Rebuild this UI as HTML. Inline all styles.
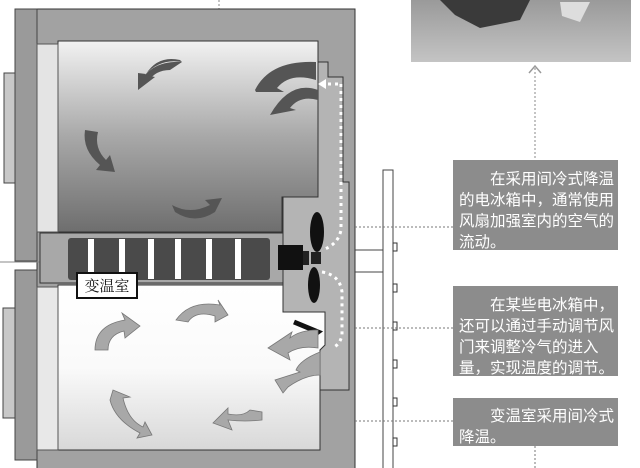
<!DOCTYPE html>
<html><head><meta charset="utf-8"><style>
body{margin:0;background:#fff}
svg{display:block}
.t{font-family:"Liberation Sans","Noto Sans CJK SC",sans-serif;font-size:15.5px;fill:#fff}
</style></head><body>
<svg width="640" height="468" viewBox="0 0 640 468" xmlns="http://www.w3.org/2000/svg">
<defs>
<linearGradient id="g1" x1="0" y1="0" x2="0" y2="1"><stop offset="0" stop-color="#f2f2f2"/><stop offset="0.5" stop-color="#a8a8a8"/><stop offset="1" stop-color="#6e6e6e"/></linearGradient>
<linearGradient id="g2" x1="0" y1="0" x2="0" y2="1"><stop offset="0" stop-color="#fff"/><stop offset="0.5" stop-color="#fafafa"/><stop offset="1" stop-color="#d8d8d8"/></linearGradient>
<linearGradient id="ph" x1="0" y1="0" x2="0" y2="1"><stop offset="0" stop-color="#9a9a9a"/><stop offset="1" stop-color="#c4c4c4"/></linearGradient>
</defs>
<!-- photo -->
<rect x="411" y="0" width="220" height="62" fill="url(#ph)"/>
<path d="M440 0 L530 0 L520 20 L480 28 L455 15Z" fill="#3a3a3a"/>
<path d="M560 2 L590 2 L580 22 L562 16Z" fill="#ddd"/>
<path d="M529 73 L535 66 L541 73" fill="none" stroke="#999" stroke-width="1.5"/>
<line x1="535" y1="68" x2="535" y2="160" stroke="#888" stroke-dasharray="2,2"/>
<line x1="219" y1="0" x2="219" y2="9" stroke="#888" stroke-dasharray="2,2"/>
<!-- cabinet -->
<rect x="37" y="9" width="318" height="460" fill="#a2a2a2" stroke="#333"/>
<rect x="15" y="9" width="22" height="252" fill="#9a9a9a" stroke="#444"/>
<rect x="15" y="270" width="22" height="190" fill="#9a9a9a" stroke="#444"/>
<rect x="4" y="73" width="11" height="110" fill="#c8c8c8" stroke="#444"/>
<rect x="3" y="308" width="12" height="110" fill="#c8c8c8" stroke="#444"/>
<line x1="0" y1="262" x2="68" y2="262" stroke="#888"/>
<!-- upper compartment -->
<path d="M58 41 H318 V197 H282 V232 H58Z" fill="url(#g1)" stroke="#333"/>
<rect x="37" y="44" width="21" height="188" fill="#e4e4e4" stroke="#555"/>
<!-- duct -->
<path d="M318 62 H328 V77 H343 V182 H349 V390 H320 L320 372 H283 V197 H318Z" fill="#b4b4b4" stroke="#333"/>
<!-- divider -->
<rect x="40" y="233" width="243" height="50" fill="#a8a8a8" stroke="#333"/>
<rect x="68" y="238" width="202" height="42" rx="3" fill="#4a4a4a"/>
<g fill="#fff"><rect x="88" y="239" width="6" height="40"/><rect x="119" y="239" width="6" height="40"/><rect x="148" y="239" width="6" height="40"/><rect x="175" y="239" width="6" height="40"/><rect x="206" y="239" width="6" height="40"/><rect x="235" y="239" width="6" height="40"/></g>
<!-- lower compartment -->
<path d="M58 285 H283 V312 H325 V345 L320 350 V450 H58Z" fill="url(#g2)" stroke="#333"/>
<rect x="37" y="287" width="21" height="163" fill="#e8e8e8" stroke="#555"/>
<rect x="77" y="273" width="60" height="25" fill="#fff" stroke="#111" stroke-width="2"/>
<text x="107" y="291" text-anchor="middle" font-family="Liberation Serif,'Noto Serif CJK SC',serif" font-size="15" fill="#111">变温室</text>
<!-- fan -->
<rect x="278" y="245" width="25" height="25" fill="#111"/>
<rect x="303" y="251" width="6" height="14" fill="#222"/>
<ellipse cx="317" cy="232" rx="7" ry="20" fill="#111"/>
<ellipse cx="314" cy="285" rx="6" ry="18" fill="#111"/>
<rect x="311" y="252" width="10" height="12" fill="#222"/>
<path d="M294 322 L318 332 L303 343" fill="none" stroke="#111" stroke-width="5"/>
<g stroke="#fff" stroke-width="3" stroke-dasharray="3,4" fill="none">
<path d="M341 84 V230 Q338 245 322 250"/>
<path d="M322 272 Q340 275 342 292 V335 Q340 345 332 348"/>
<path d="M338 84 H326"/>
</g>
<path d="M318 84 L326 79 V89Z" fill="#fff"/>
<g fill="#555">
<path d="M138 86 Q150 60 182 62 L170 70 Q155 70 148 82Z"/>
<path d="M182 62 Q160 58 145 75 L155 77 L138 90 L138 73 L146 74 Q158 55 180 60Z"/>
<path d="M255 90 Q270 60 316 62 L316 80 Q290 72 277 88 L284 92 L256 92Z"/>
<path d="M270 115 Q290 80 318 90 L318 100 Q300 95 290 108 L296 110 L270 115Z"/>
<path d="M85 130 Q82 150 100 165 L96 170 L115 172 L110 155 L106 160 Q94 148 98 132Z"/>
<path d="M172 205 Q190 215 210 205 L205 200 L222 198 L215 212 Q195 225 175 212Z"/>
</g>
<g fill="#a8a8a8" stroke="#777" stroke-width="0.8">
<path d="M95 350 Q95 325 125 320 L122 313 L140 326 L125 338 L124 331 Q108 335 108 350Z"/>
<path d="M176 320 Q190 300 220 305 L218 300 L228 315 L215 322 L215 316 Q196 310 188 322Z"/>
<path d="M110 400 Q115 420 140 433 L137 438 L152 435 L145 422 L143 427 Q128 420 123 398 L130 397 L113 390Z"/>
<path d="M262 420 Q245 422 228 420 L232 430 L213 423 L228 408 L228 414 Q243 417 250 410 L262 412Z"/>
<path d="M318 330 Q300 330 290 338 L292 332 L268 348 L290 360 L288 353 Q300 345 318 348Z"/>
<path d="M320 352 Q300 360 296 370 L300 372 L275 380 L283 393 L288 387 Q305 375 320 375Z"/>
</g>
<line x1="355" y1="250" x2="383" y2="250" stroke="#444"/>
<line x1="355" y1="272" x2="383" y2="272" stroke="#444"/>
<rect x="383" y="170" width="10" height="300" fill="#fff" stroke="#444"/>
<g fill="#fff" stroke="#333"><rect x="393" y="243" width="4" height="8"/><rect x="393" y="284" width="4" height="8"/><rect x="393" y="322" width="4" height="8"/><rect x="393" y="360" width="4" height="8"/><rect x="393" y="398" width="4" height="8"/><rect x="393" y="438" width="4" height="8"/></g>
<g stroke="#777" stroke-dasharray="2,2"><line x1="355" y1="227" x2="453" y2="227"/><line x1="355" y1="328" x2="453" y2="328"/><line x1="355" y1="421" x2="453" y2="421"/><line x1="535" y1="446" x2="535" y2="468"/></g>
<rect x="453" y="160" width="165" height="90" fill="#8c8c8c"/>
<rect x="453" y="286" width="165" height="90" fill="#8c8c8c"/>
<rect x="453" y="398" width="165" height="48" fill="#8c8c8c"/>
<g class="t">
<text x="490" y="184">在采用间冷式降温</text>
<text x="459" y="205">的电冰箱中，通常使用</text>
<text x="459" y="226">风扇加强室内的空气的</text>
<text x="459" y="247">流动。</text>
<text x="490" y="310">在某些电冰箱中，</text>
<text x="459" y="331">还可以通过手动调节风</text>
<text x="459" y="352">门来调整冷气的进入</text>
<text x="459" y="373">量，实现温度的调节。</text>
<text x="490" y="421">变温室采用间冷式</text>
<text x="459" y="442">降温。</text>
</g>
</svg>
</body></html>
